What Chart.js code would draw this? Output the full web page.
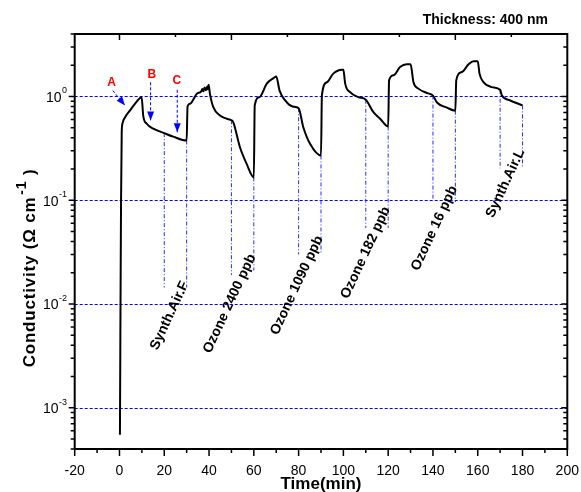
<!DOCTYPE html>
<html>
<head>
<meta charset="utf-8">
<script src="https://cdn.jsdelivr.net/npm/chart.js@4.4.0/dist/chart.umd.min.js"></script>
<style>
  html, body { margin: 0; padding: 0; background: #fff; }
  #wrap { width: 581px; height: 492px; }
</style>
</head>
<body>
<div id="wrap"><canvas id="c" width="581" height="492"></canvas></div>
<script>
// conductivity trace (min, S/cm)
const timeMin = [0.2, 0.4, 0.7, 1.0, 1.3, 2.5, 4.7, 6.9, 9.9, 10.6, 12.2, 15.1, 20, 24, 30,
  30.4, 31.5, 34.5, 36.5, 37, 37.5, 38, 38.6, 39.2, 39.5, 39.8, 40.4, 41.9, 44.9, 47.9, 50,
  50.8, 53.8, 56.8, 60, 60.4, 62.5, 65.8, 69, 70, 71.5, 74, 77.3, 80,
  82.1, 85.1, 90, 90.4, 92.6, 95.5, 99.3, 100, 100.8, 103, 106.7, 110,
  113.4, 116.4, 120, 120.4, 122.4, 125.3, 128.3, 130, 131.3, 133.5, 137.3, 140,
  141.7, 146.2, 150, 150.4, 152.9, 155.9, 158.1, 160, 160.8, 162.6, 166.3, 170,
  170.8, 174.5, 180];
const conductivity = [0.00055, 0.005, 0.1, 0.45, 0.545, 0.63, 0.733, 0.85, 0.985, 0.655, 0.545, 0.49, 0.443, 0.41, 0.376,
  0.8, 0.85, 1.06, 1.12, 1.18, 1.12, 1.22, 1.15, 1.25, 1.17, 1.3, 1.06, 0.79, 0.655, 0.61, 0.59,
  0.565, 0.324, 0.224, 0.166, 0.82, 0.985, 1.33, 1.51, 1.56, 1.14, 0.915, 0.8, 0.77,
  0.505, 0.35, 0.27, 1.02, 1.37, 1.66, 1.81, 1.81, 1.33, 1.1, 0.985, 0.93,
  0.705, 0.61, 0.513, 1.43, 1.6, 1.92, 2.04, 2.04, 1.37, 1.19, 1.08, 1.02,
  0.88, 0.78, 0.73, 1.43, 1.72, 2.04, 2.19, 2.19, 1.66, 1.37, 1.23, 1.16,
  1.02, 0.915, 0.82];

// gas switching marks
const markerTimes = [20, 30, 50, 60, 80, 90, 110, 120, 140, 150, 170, 180];
const markerTop = [0.443, 0.376, 0.59, 0.166, 0.77, 0.27, 0.93, 0.513, 1.02, 0.73, 1.16, 0.82];
const markerBottom = [0.0144, 0.0144, 0.019, 0.021, 0.03, 0.03, 0.054, 0.054, 0.099, 0.096, 0.203, 0.203];
const markerLabels = ['Synth.Air.F', 'Ozone 2400 ppb', 'Ozone 1090 ppb', 'Ozone 182 ppb', 'Ozone 16 ppb', 'Synth.Air.L'];
const labelEndV = [0.0179, 0.0327, 0.049, 0.0933, 0.149, 0.336];

// A / B / C arrows
const arrowLabels = ['A', 'B', 'C'];
const arrowLabelT = [-3.5, 14.4, 25.6];
const arrowLabelV = [1.37, 1.63, 1.405];
const arrowStartT = [-3.0, 13.9, 25.8];
const arrowStartV = [1.14, 1.37, 1.16];
const arrowTipT = [2.5, 13.9, 25.8];
const arrowTipV = [0.82, 0.586, 0.452];

// axes
const xTicks = [-20, 0, 20, 40, 60, 80, 100, 120, 140, 160, 180, 200];
const yDecades = [1e-3, 1e-2, 1e-1, 1];
const yExponents = ['-3', '-2', '-1', '0'];

const BLUE = '#0000ff';
const FONT = '"Liberation Sans", Arial, sans-serif';

const datasets = [{
  data: timeMin.map((t, i) => ({ x: t, y: conductivity[i] })),
  showLine: true,
  borderColor: '#000',
  borderWidth: 2,
  pointRadius: 0,
  cubicInterpolationMode: 'monotone',
}];
markerTimes.forEach((t, i) => {
  datasets.push({
    data: [{ x: t, y: markerTop[i] }, { x: t, y: markerBottom[i] }],
    showLine: true,
    borderColor: '#2a2aff',
    borderWidth: 1,
    borderDash: [4, 2, 1, 2],
    pointRadius: 0,
  });
});
arrowLabels.forEach((n, i) => {
  datasets.push({
    data: [{ x: arrowStartT[i], y: arrowStartV[i] }, { x: arrowTipT[i], y: arrowTipV[i] }],
    showLine: true,
    borderColor: BLUE,
    borderWidth: 1,
    borderDash: [3, 2],
    pointRadius: 0,
  });
});

const originAxes = {
  id: 'originAxes',
  beforeDatasetsDraw(chart) {
    const { ctx, chartArea: a, scales: { y } } = chart;
    ctx.save();
    ctx.strokeStyle = BLUE;
    ctx.lineWidth = 1;
    ctx.setLineDash([3, 2]);
    yDecades.forEach(v => {
      const py = Math.round(y.getPixelForValue(v)) + 0.5;
      ctx.beginPath();
      ctx.moveTo(a.left, py);
      ctx.lineTo(a.right, py);
      ctx.stroke();
    });
    ctx.restore();
  },
  afterDatasetsDraw(chart) {
    const { ctx, chartArea: a, scales: { x, y } } = chart;
    ctx.save();

    // arrow heads + letters
    ctx.fillStyle = BLUE;
    arrowLabels.forEach((n, i) => {
      const x0 = x.getPixelForValue(arrowStartT[i]), y0 = y.getPixelForValue(arrowStartV[i]);
      const x1 = x.getPixelForValue(arrowTipT[i]), y1 = y.getPixelForValue(arrowTipV[i]);
      const len = Math.hypot(x1 - x0, y1 - y0);
      const ux = (x1 - x0) / len, uy = (y1 - y0) / len;
      const bx = x1 - ux * 9, by = y1 - uy * 9;
      ctx.beginPath();
      ctx.moveTo(x1, y1);
      ctx.lineTo(bx - uy * 3.5, by + ux * 3.5);
      ctx.lineTo(bx + uy * 3.5, by - ux * 3.5);
      ctx.closePath();
      ctx.fill();
    });
    ctx.fillStyle = '#ff0000';
    ctx.font = 'bold 12px ' + FONT;
    ctx.textAlign = 'center';
    ctx.textBaseline = 'middle';
    arrowLabels.forEach((n, i) => {
      ctx.fillText(n, x.getPixelForValue(arrowLabelT[i]), y.getPixelForValue(arrowLabelV[i]));
    });

    // rotated gas labels
    ctx.fillStyle = '#000';
    ctx.font = 'bold 14px ' + FONT;
    ctx.textAlign = 'right';
    ctx.textBaseline = 'alphabetic';
    markerLabels.forEach((s, i) => {
      const px = x.getPixelForValue(markerTimes[i * 2 + 1]);
      const py = y.getPixelForValue(labelEndV[i]);
      ctx.save();
      ctx.translate(px + 2, py + 6);
      ctx.rotate(-65 * Math.PI / 180);
      ctx.fillText(s, 0, 0);
      ctx.restore();
    });

    // frame
    ctx.strokeStyle = '#000';
    ctx.lineWidth = 2;
    ctx.strokeRect(a.left, a.top, a.right - a.left, a.bottom - a.top);

    // ticks
    ctx.lineWidth = 1.5;
    ctx.beginPath();
    for (let t = -20; t <= 200; t += 10) {
      const px = x.getPixelForValue(t);
      const major = t % 20 === 0;
      ctx.moveTo(px, a.bottom);
      ctx.lineTo(px, a.bottom + (major ? 7 : 4));
    }
    for (let t = 0; t < 200; t += 25) {
      const px = x.getPixelForValue(t);
      ctx.moveTo(px, a.top);
      ctx.lineTo(px, a.top + (t % 50 === 0 ? 6 : 3));
    }
    for (let e = -4; e <= 0; e++) {
      for (let k = 1; k <= 9; k++) {
        const v = k * Math.pow(10, e);
        if (v < y.min || v > y.max) continue;
        const py = y.getPixelForValue(v);
        const len = k === 1 ? 6 : 4;
        ctx.moveTo(a.left - len, py);
        ctx.lineTo(a.left, py);
        ctx.moveTo(a.right - len, py);
        ctx.lineTo(a.right, py);
      }
    }
    ctx.stroke();

    // tick labels
    ctx.fillStyle = '#000';
    ctx.font = '14px ' + FONT;
    ctx.textAlign = 'center';
    ctx.textBaseline = 'alphabetic';
    xTicks.forEach(t => ctx.fillText(String(t), x.getPixelForValue(t), 475));

    yDecades.forEach((v, i) => {
      const py = y.getPixelForValue(v);
      ctx.font = '9px ' + FONT;
      const sw = ctx.measureText(yExponents[i]).width;
      ctx.textAlign = 'left';
      ctx.fillText(yExponents[i], 67 - sw, py - 3);
      ctx.font = '14px ' + FONT;
      ctx.textAlign = 'right';
      ctx.fillText('10', 67 - sw - 0.5, py + 5.5);
    });

    // axis titles
    ctx.font = 'bold 17px ' + FONT;
    ctx.textAlign = 'center';
    ctx.fillText('Time(min)', (a.left + a.right) / 2, 489);

    ctx.font = 'bold 14px ' + FONT;
    ctx.textAlign = 'right';
    ctx.fillText('Thickness: 400 nm', 548, 24);

    ctx.save();
    ctx.translate(35, 268);
    ctx.rotate(-Math.PI / 2);
    ctx.letterSpacing = '0.8px';
    const p1 = 'Conductivity (\u03a9 cm';
    ctx.font = 'bold 17px ' + FONT;
    const w1 = ctx.measureText(p1).width;
    ctx.font = 'bold 14px ' + FONT;
    const w2 = ctx.measureText('-1').width;
    ctx.font = 'bold 17px ' + FONT;
    const w3 = ctx.measureText(' )').width;
    let sx = -(w1 + 2 + w2 + w3) / 2;
    ctx.textAlign = 'left';
    ctx.fillText(p1, sx, 0);
    sx += w1 + 2;
    ctx.font = 'bold 14px ' + FONT;
    ctx.fillText('-1', sx, -9);
    sx += w2;
    ctx.font = 'bold 17px ' + FONT;
    ctx.fillText(' )', sx, 0);
    ctx.restore();

    ctx.restore();
  }
};

new Chart(document.getElementById('c'), {
  type: 'scatter',
  data: { datasets },
  options: {
    responsive: false,
    animation: false,
    layout: { padding: { left: 74.7, right: 13.7, top: 34, bottom: 43 } },
    plugins: { legend: { display: false }, tooltip: { enabled: false } },
    scales: {
      x: { type: 'linear', min: -20, max: 200, display: false },
      y: { type: 'logarithmic', min: 4e-4, max: 4, display: false },
    },
  },
  plugins: [originAxes],
});
</script>
</body>
</html>
